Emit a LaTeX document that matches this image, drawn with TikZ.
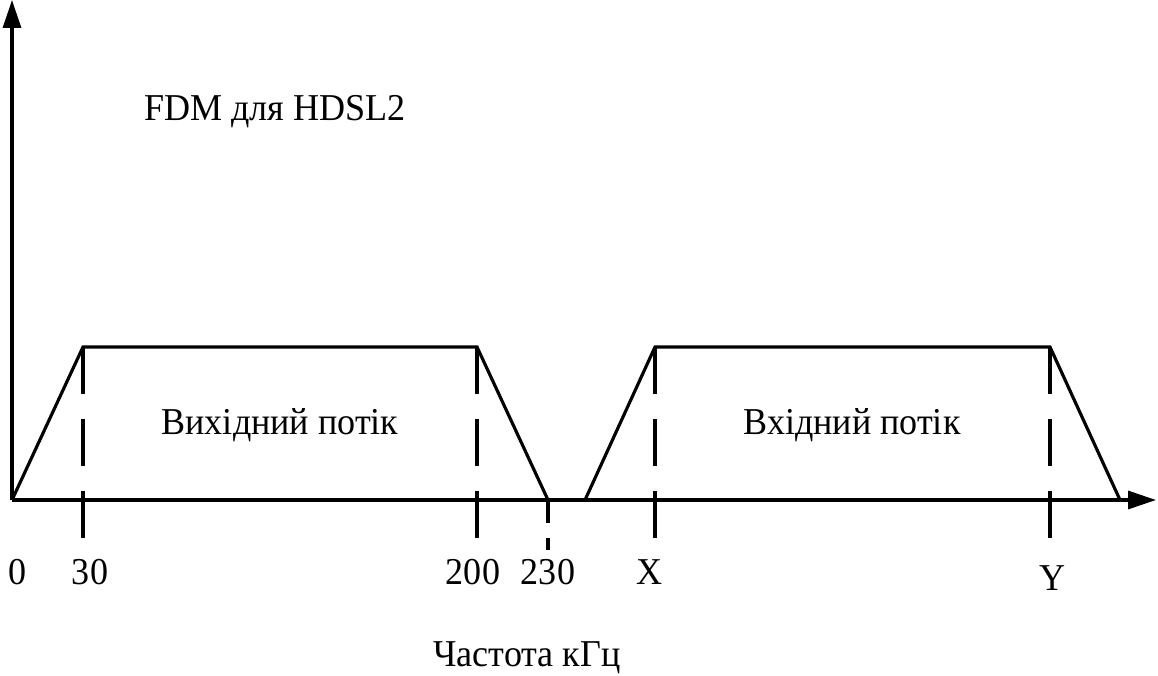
\documentclass[tikz,border=0pt]{standalone}
\usepackage{fontspec}
\setmainfont{Liberation Serif}[FakeStretch=0.95]
\usepackage{tikz}
\usetikzlibrary{arrows.meta,calc}
\definecolor{ink}{RGB}{0,0,0}

\begin{document}
\begin{tikzpicture}[line width=0.9pt, color=ink,
    guide/.style={dash pattern=on 4.7mm off 2.5mm},
    guideshort/.style={dash pattern=on 2.3mm off 1.5mm},
    lbl/.style={font=\fontsize{10.8}{13}\selectfont, inner sep=0pt}]
  \useasboundingbox (0,0) rectangle (11.58,6.75);
  \coordinate (O) at (0.12,1.75);
  \coordinate (Ytip) at (0.12,6.75);
  \coordinate (Xtip) at (11.56,1.75);
  % axes
  \draw[-{Triangle[length=2.8mm,width=1.8mm]}] (O) -- (Ytip);
  \draw[-{Triangle[length=2.8mm,width=1.8mm]}] (O) -- (Xtip);
  % downstream band
  \coordinate (A1) at (0.83,3.28);
  \coordinate (A2) at (4.77,3.28);
  \coordinate (A3) at (5.48,1.75);
  \draw[line join=miter] (O) -- (A1) -- (A2) -- (A3);
  % upstream band
  \coordinate (B0) at (5.85,1.75);
  \coordinate (B1) at (6.55,3.28);
  \coordinate (B2) at (10.50,3.28);
  \coordinate (B3) at (11.20,1.75);
  \draw[line join=miter] (B0) -- (B1) -- (B2) -- (B3);
  % guides
  \foreach \p in {A1,A2,B1,B2}
    \draw[guide] (\p) -- ($(\p|-O)+(0,-0.40)$);
  \draw[guideshort] (A3) -- ($(A3)+(0,-0.50)$);
  % labels
  \node[lbl] (t0) at (0.18,1.03) {0};
  \node[lbl] (t30) at (0.90,1.03) {30};
  \node[lbl] (t200) at (4.73,1.03) {200};
  \node[lbl] (t230) at (5.48,1.03) {230};
  \node[lbl] (tX) at (6.50,1.03) {X};
  \node[lbl] (tY) at (10.52,0.97) {Y};
  \node[lbl] (title) at (2.75,5.63) {FDM для HDSL2};
  \node[lbl] (down) at (2.80,2.50) {Вихідний потік};
  \node[lbl] (up) at (8.52,2.50) {Вхідний потік};
  \node[lbl] (freq) at (5.27,0.17) {Частота кГц};
\end{tikzpicture}
\end{document}
